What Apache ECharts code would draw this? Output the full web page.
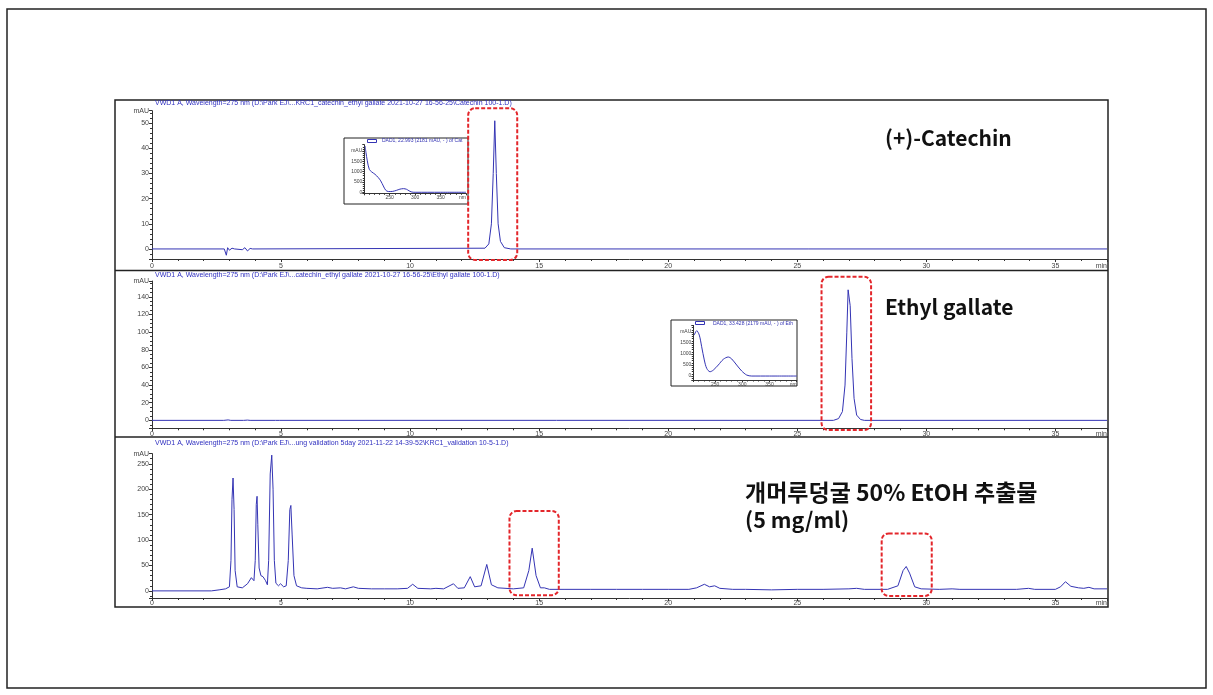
<!DOCTYPE html>
<html><head><meta charset="utf-8">
<script src="https://cdn.jsdelivr.net/npm/echarts@6/dist/echarts.min.js"></script>
<style>html,body{margin:0;padding:0;background:#fff}#c{width:1213px;height:695px}</style>
</head><body><div id="c"></div>
<script>
// ---------- data (retention time in min, absorbance in mAU) ----------
const catechinTrace = [
  [0,0],[2.8,0],[2.88,-2.5],[2.93,0.5],[3.0,-0.5],[3.1,0.3],[3.2,0],[3.5,-0.3],[3.6,0.5],[3.7,-0.8],[3.8,0.2],[3.9,0],
  [12.9,0.3],[13.05,2],[13.15,10],[13.22,30],[13.28,51],[13.34,30],[13.41,10],[13.5,3],[13.65,0.5],[13.9,0],[37,0]
];
const ethylGallateTrace = [
  [0,0],[2.78,0],[2.85,-1.5],[2.95,0.5],[3.05,0],[3.55,0],[3.6,-0.8],[3.7,0.3],[3.8,0],[4.78,0],[4.85,1.5],[4.95,0],
  [26.4,0],[26.6,2],[26.75,10],[26.85,40],[26.92,100],[26.97,148],[27.0,150],[27.05,130],[27.12,70],[27.2,25],[27.3,6],[27.45,1],[27.6,0],[37,0]
];
const extractTrace = [
  [0,0],[2.3,0],[2.6,2],[2.85,4],[3.0,8],[3.06,60],[3.1,180],[3.14,222],[3.18,160],[3.22,40],[3.3,8],[3.5,6],[3.7,14],[3.85,26],[3.95,20],
  [4.0,60],[4.04,170],[4.07,186],[4.1,130],[4.15,45],[4.22,30],[4.3,28],[4.4,20],[4.47,12],[4.52,60],[4.58,230],[4.64,267],[4.69,200],[4.74,60],[4.8,15],
  [4.9,10],[4.98,14],[5.1,8],[5.2,10],[5.28,60],[5.34,160],[5.38,168],[5.43,110],[5.5,30],[5.6,10],[5.8,6],[6.0,5],[6.4,4],[6.8,7],[7.0,5],[7.3,6],[7.5,4],
  [7.8,8],[8.0,5],[8.5,4],[9.0,4],[9.5,4],[9.9,5],[10.1,13],[10.3,5],[10.8,4],[11.0,5],[11.3,4],[11.68,14],[11.85,5],[12.1,6],[12.33,28],[12.5,8],[12.75,10],
  [12.97,52],[13.15,12],[13.4,6],[14.0,4],[14.4,6],[14.6,40],[14.73,84],[14.88,30],[15.05,6],[15.2,6],[15.4,3],[16,3],[17,3],[18,3],[19,3],[20,3],[20.8,3],
  [21.1,6],[21.4,13],[21.6,8],[21.8,10],[22.0,5],[22.5,3],[23,3],[24,2],[25,3],[26,3],[27,4],[27.3,5],[27.6,3],[28.5,3],[28.9,10],[29.1,40],[29.22,48],
  [29.35,35],[29.55,8],[29.8,4],[30.5,3],[31.0,4],[31.3,3],[33.5,3],[33.96,5],[34.2,3],[35.0,3],[35.2,8],[35.39,18],[35.6,9],[35.9,6],[36.1,5],[36.3,7],[36.5,4],[37,4]
];
// UV spectra (wavelength nm, mAU)
const catechinSpectrum = [
  [201.5,2240],[203.3,1920],[205.9,1520],[209.8,1110],[214.5,985],[221,870],[227.5,710],[232.3,550],[237.4,305],[242.1,100],[247.2,35],
  [255,40],[263,90],[270,150],[277,175],[283,145],[288,70],[292,20],[296,2],[300,0],[350,0],[400,0]
];
const ethylGallateSpectrum = [
  [211.8,1860],[216.2,2060],[221,1860],[225.4,1330],[230.2,730],[234.6,350],[240.7,195],[246.8,270],[255.9,500],[265.1,760],
  [274.3,865],[280.6,775],[289.7,500],[298.9,230],[308.1,45],[317.3,0],[350,0],[400,0]
];
const panelTitles = [
  'VWD1 A, Wavelength=275 nm (D:\\Park EJ\\...KRC1_catechin_ethyl gallate 2021-10-27 16-56-25\\Catechin 100-1.D)',
  'VWD1 A, Wavelength=275 nm (D:\\Park EJ\\...catechin_ethyl gallate 2021-10-27 16-56-25\\Ethyl gallate 100-1.D)',
  'VWD1 A, Wavelength=275 nm (D:\\Park EJ\\...ung validation 5day 2021-11-22 14-39-52\\KRC1_validation 10-5-1.D)'
];
const insetLegends = ['DAD1, 22.993 (2181 mAU, - ) of Catechin 100-1.D', 'DAD1, 33.428 (2179 mAU, - ) of Ethyl gallate 100-1.D'];
const compoundLabels = ['(+)-Catechin', 'Ethyl gallate', '개머루덩굴 50% EtOH 추출물', '(5 mg/ml)'];
// highlighted regions [grid, xFrom, xTo, yFrom, yTo] in data units
const highlightBoxes = [
  [0, 12.25, 14.15, -4.4, 56],
  [1, 25.94, 27.86, -11, 162.8],
  [2, 13.85, 15.76, -8.4, 157],
  [2, 28.27, 30.21, -10, 113]
];

// ---------- chart ----------
const chart = echarts.init(document.getElementById('c'), null, {renderer: 'canvas'});
const FONT = 'Liberation Sans';
const AX = '#333';
const LINE = '#3434b4';

function mainX(g, margin) {
  return {
    type: 'value', gridIndex: g, min: 0, max: 37, interval: 5,
    axisLine: {show: true, onZero: false, lineStyle: {color: AX, width: 1}},
    axisTick: {show: true, length: 3, lineStyle: {color: AX}},
    minorTick: {show: true, splitNumber: 5, length: 2, lineStyle: {color: AX}},
    splitLine: {show: false},
    axisLabel: {fontSize: 7, color: '#444', fontFamily: FONT, margin: margin, showMaxLabel: true, alignMaxLabel: 'right',
      formatter: v => v === 37 ? 'min' : String(v)}
  };
}
function mainY(g, min, max, step, minor) {
  return {
    type: 'value', gridIndex: g, min: min, max: max, minInterval: step, maxInterval: step,
    splitNumber: Math.round((max - min) / step),
    axisLine: {show: true, onZero: false, lineStyle: {color: AX, width: 1}},
    axisTick: {show: true, length: 3, lineStyle: {color: AX}},
    minorTick: {show: true, splitNumber: minor, length: 2, lineStyle: {color: AX}},
    splitLine: {show: false},
    axisLabel: {fontSize: 7, color: '#444', fontFamily: FONT, margin: 3, showMinLabel: true, showMaxLabel: true,
      formatter: v => v === max ? 'mAU' : (Math.abs(v / step - Math.round(v / step)) < 1e-6 ? String(v) : '')}
  };
}
function insetX(g, min) {
  return {
    type: 'value', gridIndex: g, min: min, max: 400, minInterval: 50, maxInterval: 50, splitNumber: 4,
    axisLine: {show: true, onZero: false, lineStyle: {color: AX, width: 1}},
    axisTick: {show: true, length: 2, lineStyle: {color: AX}},
    minorTick: {show: true, splitNumber: 5, length: 1.5, lineStyle: {color: AX}},
    splitLine: {show: false},
    axisLabel: {fontSize: 5, color: '#444', fontFamily: FONT, margin: 2, showMaxLabel: true, showMinLabel: true, alignMaxLabel: 'right',
      formatter: v => v === 400 ? 'nm' : ((v % 50 === 0 && v !== 200) ? String(v) : '')}
  };
}
function insetY(g, min) {
  return {
    type: 'value', gridIndex: g, min: min, max: 2300, minInterval: 500, maxInterval: 500, splitNumber: 5,
    axisLine: {show: true, onZero: false, lineStyle: {color: AX, width: 1}},
    axisTick: {show: true, length: 2, lineStyle: {color: AX}},
    minorTick: {show: true, splitNumber: 5, length: 1.5, lineStyle: {color: AX}},
    splitLine: {show: false},
    axisLabel: {fontSize: 5, color: '#444', fontFamily: FONT, margin: 2, showMinLabel: false, showMaxLabel: false,
      formatter: v => v === 2000 ? 'mAU' : ((v % 500 === 0 && v >= 0 && v < 2000) ? String(v) : '')}
  };
}
function lineSeries(x, y, data, smooth) {
  return {type: 'line', xAxisIndex: x, yAxisIndex: y, data: data, showSymbol: false, symbol: 'none', smooth: smooth || false,
    lineStyle: {color: LINE, width: 1}, animation: false, silent: true, z: 5};
}

const frameStroke = {stroke: '#222', lineWidth: 1.5, fill: null};
const bigFont = {fontWeight: 'bold', fill: '#111', fontFamily: 'Noto Sans CJK KR', verticalAlign: 'middle'};
const graphics = [
  {type: 'rect', shape: {x: 7, y: 9, width: 1199, height: 679}, style: {stroke: '#222', lineWidth: 1.5, fill: null}, z: -2, silent: true},
  {type: 'rect', shape: {x: 115, y: 100, width: 993, height: 507}, style: frameStroke, z: -2, silent: true},
  {type: 'line', shape: {x1: 115, y1: 270.5, x2: 1108, y2: 270.5}, style: {stroke: '#222', lineWidth: 1.5}, z: -2, silent: true},
  {type: 'line', shape: {x1: 115, y1: 437, x2: 1108, y2: 437}, style: {stroke: '#222', lineWidth: 1.5}, z: -2, silent: true},
  // inset frames
  {type: 'rect', shape: {x: 344, y: 138, width: 124, height: 66}, style: {stroke: '#222', lineWidth: 1, fill: '#fff'}, z: -1, silent: true},
  {type: 'rect', shape: {x: 671, y: 320, width: 126, height: 66}, style: {stroke: '#222', lineWidth: 1, fill: '#fff'}, z: -1, silent: true},
  // inset legends
  {type: 'rect', shape: {x: 367.5, y: 139.5, width: 9, height: 3}, style: {stroke: '#3434b4', lineWidth: 1, fill: '#fff'}, z: 10, silent: true},
  {type: 'text', x: 382, y: 141, style: {text: insetLegends[0], fontSize: 5, fill: '#3434b4', fontFamily: FONT, verticalAlign: 'middle', width: 84, overflow: 'truncate', ellipsis: ''}, z: 10, silent: true},
  {type: 'rect', shape: {x: 695.5, y: 321.5, width: 9, height: 3}, style: {stroke: '#3434b4', lineWidth: 1, fill: '#fff'}, z: 10, silent: true},
  {type: 'text', x: 713, y: 323.5, style: {text: insetLegends[1], fontSize: 5, fill: '#3434b4', fontFamily: FONT, verticalAlign: 'middle', width: 82, overflow: 'truncate', ellipsis: ''}, z: 10, silent: true},
  // panel titles
  {type: 'text', x: 155, y: 103.5, style: {text: panelTitles[0], fontSize: 7, fill: '#3030c0', fontFamily: FONT, verticalAlign: 'middle'}, z: 10, silent: true},
  {type: 'text', x: 155, y: 275, style: {text: panelTitles[1], fontSize: 7, fill: '#3030c0', fontFamily: FONT, verticalAlign: 'middle'}, z: 10, silent: true},
  {type: 'text', x: 155, y: 443, style: {text: panelTitles[2], fontSize: 7, fill: '#3030c0', fontFamily: FONT, verticalAlign: 'middle'}, z: 10, silent: true},
  // compound labels
  {type: 'text', x: 885, y: 138, style: Object.assign({text: compoundLabels[0], fontSize: 21}, bigFont), z: 10, silent: true},
  {type: 'text', x: 885, y: 307, style: Object.assign({text: compoundLabels[1], fontSize: 21}, bigFont), z: 10, silent: true},
  {type: 'text', x: 745, y: 492, style: Object.assign({text: compoundLabels[2], fontSize: 23}, bigFont), z: 10, silent: true},
  {type: 'text', x: 745, y: 520, style: Object.assign({text: compoundLabels[3], fontSize: 21.5}, bigFont), z: 10, silent: true}
];

const option = {
  backgroundColor: '#fff',
  animation: false,
  grid: [
    {left: 152, width: 955, top: 110.7, height: 148.3},
    {left: 152, width: 955, top: 281, height: 147.3},
    {left: 152, width: 955, top: 453.6, height: 144.4},
    {left: 364.3, width: 101.7, top: 144.7, height: 48.6},
    {left: 693.3, width: 103.4, top: 325.4, height: 54.6}
  ],
  xAxis: [mainX(0, 4), mainX(1, 2), mainX(2, 2), insetX(3, 200), insetX(4, 210)],
  yAxis: [mainY(0, -4, 55, 10, 5), mainY(1, -9, 158, 20, 4), mainY(2, -14, 270, 50, 5), insetY(3, -50), insetY(4, -180)],
  series: [
    lineSeries(0, 0, catechinTrace),
    lineSeries(1, 1, ethylGallateTrace),
    lineSeries(2, 2, extractTrace),
    lineSeries(3, 3, catechinSpectrum, 0.3),
    lineSeries(4, 4, ethylGallateSpectrum, 0.3)
  ],
  graphic: graphics
};
chart.setOption(option);

// red dashed highlight boxes placed through the axes' scales
const boxes = highlightBoxes.map(b => {
  const p1 = chart.convertToPixel({gridIndex: b[0]}, [b[1], b[4]]);
  const p2 = chart.convertToPixel({gridIndex: b[0]}, [b[2], b[3]]);
  return {type: 'rect', shape: {x: p1[0], y: p1[1], width: p2[0] - p1[0], height: p2[1] - p1[1], r: 7},
    style: {stroke: '#e3262b', lineWidth: 2, lineDash: [4, 2], fill: null}, z: 20, silent: true};
});
chart.setOption({graphic: graphics.concat(boxes)});
</script></body></html>
